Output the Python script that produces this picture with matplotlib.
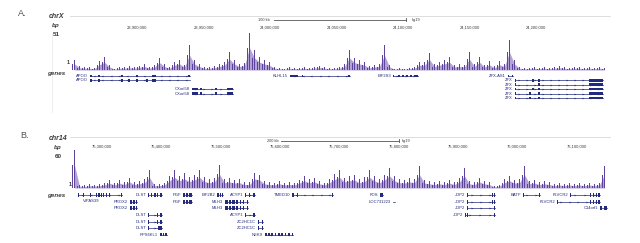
import matplotlib
matplotlib.use("Agg")
import matplotlib.pyplot as plt
from matplotlib.patches import Rectangle

plt.rcParams["font.family"] = ["Liberation Sans", "DejaVu Sans"]

# ---------------- panel A : chrX ----------------
a_chrom = "chrX"
a_view = (23849600, 24255680)
a_bin_start = 23851100
a_bin = 3760
a_max = 51
a_signal = [14, 5, 4, 4, 3, 12, 18, 7, 2, 4, 4, 5, 4, 6, 8, 4, 7, 17, 8, 4,
            11, 14, 7, 34, 14, 8, 4, 4, 5, 8, 11, 25, 14, 8, 10, 51, 28, 18, 14, 11,
            4, 3, 2, 4, 3, 3, 4, 3, 4, 6, 4, 3, 3, 4, 8, 28, 17, 14, 11, 5,
            7, 8, 34, 7, 2, 3, 2, 3, 4, 11, 11, 24, 8, 11, 14, 18, 7, 8, 7, 25,
            8, 18, 7, 12, 5, 12, 8, 41, 14, 4, 3, 3, 4, 3, 4, 3, 4, 5, 4, 3,
            4, 4, 3, 4, 3, 4, 3]
a_ticks = [23900000, 23950000, 24000000, 24050000, 24100000, 24150000, 24200000]
a_tick_labels = ["23,900,000", "23,950,000", "24,000,000", "24,050,000",
                 "24,100,000", "24,150,000", "24,200,000"]
a_scale_kb = 100
# name, row, start, end, strand, exons
a_genes = [
    ("APOO", 0, 23864600, 23939800, "-",
     [(23864600, 23866500), (23871000, 23872500), (23888000, 23889500),
      (23899500, 23901000), (23911000, 23914000), (23938500, 23939800)]),
    ("APOO", 1, 23864600, 23939800, "-",
     [(23864600, 23866500), (23871000, 23872500), (23888000, 23889500),
      (23893000, 23894500), (23899500, 23901000), (23907000, 23908500),
      (23911000, 23914000)]),
    ("CXorf58", 3, 23941300, 23972200, "+",
     [(23941300, 23945500), (23947000, 23949000), (23959000, 23960500),
      (23968000, 23972200)]),
    ("CXorf58", 4, 23941300, 23972200, "+",
     [(23941300, 23945500), (23947000, 23949000), (23959000, 23960500),
      (23968000, 23972200)]),
    ("KLHL15", 0, 24015000, 24060000, "-",
     [(24015000, 24021000), (24024000, 24025000), (24059000, 24060000)]),
    ("EIF2S3", 0, 24092500, 24111300, "+",
     [(24092500, 24093500), (24096000, 24097500), (24099500, 24101000),
      (24102500, 24104000), (24105500, 24107000), (24108500, 24111300)]),
    ("ZFX-AS1", 0, 24179000, 24183000, "-",
     [(24179000, 24180000), (24182000, 24183000)]),
    ("ZFX", 1, 24184200, 24250400, "+",
     [(24184200, 24185200), (24197000, 24198200), (24201500, 24203000), (24240000, 24250400)]),
    ("ZFX", 2, 24184200, 24250400, "+",
     [(24184200, 24185200), (24201500, 24203000), (24240000, 24250400)]),
    ("ZFX", 3, 24184200, 24250400, "+",
     [(24184200, 24185200), (24197000, 24198200), (24201500, 24203000), (24240000, 24250400)]),
    ("ZFX", 4, 24184200, 24250400, "+",
     [(24184200, 24185200), (24195000, 24196000), (24201500, 24203000), (24240000, 24250400)]),
    ("ZFX", 5, 24184200, 24250400, "+",
     [(24184200, 24185200), (24195000, 24196000), (24201500, 24203000), (24240000, 24250400)]),
]

# ---------------- panel B : chr14 ----------------
b_chrom = "chr14"
b_view = (75246050, 76156490)
b_bin_start = 75249420
b_bin = 8430
b_max = 60
b_signal = [60, 5, 4, 6, 5, 6, 8, 13, 8, 13, 9, 16, 9, 11, 14, 28, 6, 6, 8, 19,
            28, 19, 24, 17, 21, 28, 17, 14, 16, 36, 14, 16, 13, 14, 9, 9, 24, 21, 11, 9,
            8, 11, 8, 9, 8, 13, 19, 14, 16, 11, 8, 14, 22, 28, 16, 19, 21, 14, 17, 28,
            19, 14, 21, 32, 19, 14, 13, 16, 14, 35, 13, 11, 9, 11, 9, 13, 9, 16, 32, 11,
            9, 16, 11, 9, 3, 5, 14, 19, 13, 14, 35, 11, 13, 9, 11, 9, 6, 8, 6, 8,
            6, 8, 6, 8, 6, 8, 35]
b_ticks = [75300000, 75400000, 75500000, 75600000, 75700000, 75800000,
           75900000, 76000000, 76100000]
b_tick_labels = ["75,300,000", "75,400,000", "75,500,000", "75,600,000", "75,700,000",
                 "75,800,000", "75,900,000", "76,000,000", "76,100,000"]
b_scale_kb = 200
b_genes = [
    ("VIPAS39", 0, 75259540, 75333720, "-",
     [(75259540, 75261200), (75268000, 75269500), (75279500, 75281000), (75290000, 75292000),
      (75294000, 75296000), (75298000, 75300000), (75302000, 75304000), (75306000, 75308000),
      (75312000, 75314000), (75332000, 75333720)]),
    ("PROX2", 1, 75347200, 75359000, "-",
     [(75347200, 75350500), (75352500, 75355000), (75357500, 75359000)]),
    ("PROX2", 2, 75347200, 75359000, "-",
     [(75347200, 75350500), (75352500, 75355000), (75357500, 75359000)]),
    ("DLST", 0, 75377600, 75401200, "+",
     [(75377600, 75379000), (75383000, 75385000), (75388000, 75390500),
      (75392500, 75395000), (75397000, 75401200)]),
    ("DLST", 3, 75377600, 75401200, "+",
     [(75377600, 75379000), (75392500, 75395000), (75397000, 75401200)]),
    ("DLST", 4, 75377600, 75401200, "+",
     [(75377600, 75379000), (75392500, 75395000), (75397000, 75401200)]),
    ("DLST", 5, 75377600, 75401200, "+",
     [(75377600, 75380000), (75395000, 75401200)]),
    ("RPS6KL1", 6, 75397800, 75409600, "-",
     [(75397800, 75400500), (75402500, 75404500), (75406500, 75409600)]),
    ("PGF", 0, 75436600, 75451700, "-",
     [(75436600, 75439500), (75441500, 75444500), (75446500, 75451700)]),
    ("PGF", 1, 75436600, 75451700, "-",
     [(75436600, 75439500), (75441500, 75444500), (75446500, 75451700)]),
    ("EIF2B2", 0, 75493900, 75504000, "+",
     [(75493900, 75497000), (75498500, 75501000), (75502000, 75504000)]),
    ("MLH3", 1, 75507400, 75546200, "-",
     [(75507400, 75512000), (75514000, 75517500), (75520000, 75523500), (75526000, 75529500),
      (75532000, 75535000), (75537000, 75540000), (75544000, 75546200)]),
    ("MLH3", 2, 75507400, 75546200, "-",
     [(75507400, 75512000), (75514000, 75517500), (75520000, 75523500), (75526000, 75529500),
      (75532000, 75535000), (75537000, 75540000), (75544000, 75546200)]),
    ("ACYP1", 0, 75541100, 75558000, "+",
     [(75541100, 75542500), (75548000, 75549500), (75554500, 75558000)]),
    ("ACYP1", 3, 75541100, 75558000, "+",
     [(75541100, 75542500), (75554500, 75558000)]),
    ("ZC2HC1C", 4, 75563000, 75571500, "+",
     [(75563000, 75565000), (75569000, 75571500)]),
    ("ZC2HC1C", 5, 75563000, 75571500, "+",
     [(75563000, 75565000), (75569000, 75571500)]),
    ("NEK9", 6, 75574800, 75622000, "-",
     [(75574800, 75578000), (75580000, 75583000), (75585000, 75588000), (75591000, 75593000),
      (75596000, 75600000), (75602000, 75605000), (75608000, 75611000), (75614000, 75617000),
      (75620000, 75622000)]),
    ("TMED10", 0, 75620300, 75689500, "-",
     [(75620300, 75624000), (75628000, 75630000), (75650000, 75651500), (75688000, 75689500)]),
    ("FOS", 0, 75768700, 75773800, "+",
     [(75768700, 75769900), (75770800, 75771800), (75772800, 75773800)]),
    ("LOC731223", 1, 75790600, 75794000, "+", [(75790600, 75791200)]),
    ("JDP2", 0, 75915400, 75962600, "+",
     [(75915400, 75916400), (75925000, 75926000), (75958000, 75959500), (75961500, 75962600)]),
    ("JDP2", 1, 75915400, 75962600, "+",
     [(75915400, 75916400), (75958000, 75959500), (75961500, 75962600)]),
    ("JDP2", 2, 75915400, 75962600, "+",
     [(75915400, 75916400), (75925000, 75926000), (75961500, 75962600)]),
    ("JDP2", 3, 75912000, 75962600, "+",
     [(75912000, 75913500), (75916000, 75917000), (75961500, 75962600)]),
    ("BATF", 0, 76009800, 76038500, "+",
     [(76009800, 76011500), (76036000, 76038500)]),
    ("FLVCR2", 0, 76089000, 76139600, "+",
     [(76089000, 76090500), (76122000, 76124000), (76128000, 76130000),
      (76133000, 76135000), (76137000, 76139600)]),
    ("FLVCR2", 1, 76067000, 76139600, "+",
     [(76067000, 76068500), (76122000, 76124000), (76128000, 76130000),
      (76133000, 76135000), (76137000, 76139600)]),
    ("C14orf1", 2, 76139600, 76151400, "-",
     [(76139600, 76143500), (76146000, 76151400)]),
]

SIG = "#5e439c"
FILL = "#b2a3d4"
GENE = "#232a7d"
TXT = "#3a3a3a"

fig = plt.figure(figsize=(6.4, 2.43), dpi=100)


def box(x0, y0, x1, y1):
    return [x0 / 640, 1 - y1 / 243, (x1 - x0) / 640, (y1 - y0) / 243]


def ftext(x, y, s, **kw):
    kw.setdefault("color", TXT)
    kw.setdefault("va", "center")
    fig.text(x / 640, 1 - y / 243, s, **kw)


def header(top, bottom, view, ticks, labels, scale_kb, line_y, bar_y, lab_y):
    ax = fig.add_axes(box(70, top, 610, bottom))
    ax.set_xlim(view)
    ax.set_ylim(bottom, top)
    ax.axis("off")
    ax.plot(view, [line_y, line_y], color="#d8d8d8", lw=0.6, clip_on=False)
    mid = (view[0] + view[1]) / 2
    half = scale_kb * 1000 / 2
    ax.plot([mid - half, mid + half], [bar_y, bar_y], color="#555555", lw=0.6)
    ax.plot([mid + half, mid + half], [bar_y - 1.5, bar_y + 1.5], color="#555555", lw=0.6)
    ax.text(mid - half - 3000, bar_y, "%d kb" % scale_kb, fontsize=2.8, ha="right",
            va="center", color=TXT)
    ax.text(mid + half + 4000, bar_y, "hg19", fontsize=2.8, ha="left", va="center", color=TXT)
    for t, l in zip(ticks, labels):
        ax.text(t, lab_y, l, fontsize=3, ha="center", va="center", color=TXT)
    return ax


def signal(top, bottom, view, start, width, values, vmax):
    ax = fig.add_axes(box(70, top, 610, bottom))
    xs = [start + (i + 0.5) * width for i in range(len(values))]
    # soft envelope under the spikes
    ax.fill_between(xs, 0, [v * 0.6 for v in values], color=FILL, lw=0)
    # thin spikes, two per bin, to give the comb look of the browser track
    ax.bar(xs, values, width=width * 0.35, color=SIG, lw=0)
    ax.bar([x - width * 0.35 for x in xs], [v * 0.6 for v in values],
           width=width * 0.2, color=SIG, lw=0)
    ax.set_xlim(view)
    ax.set_ylim(0, vmax)
    ax.axis("off")
    return ax


def genes(top, bottom, view, glist, nrows, px_per_bp):
    ax = fig.add_axes(box(70, top, 610, bottom))
    ax.set_xlim(view)
    ax.set_ylim(nrows - 0.4, -0.5)
    ax.axis("off")
    step = 8 / px_per_bp
    for name, row, s, e, strand, exons in glist:
        ax.plot([s, e], [row, row], color=GENE, lw=0.5)
        for es, ee in exons:
            ax.add_patch(Rectangle((es, row - 0.3), ee - es, 0.6, color=GENE, lw=0))
        n = int((e - s) / step)
        if n > 0:
            xs = [s + (k + 0.5) * (e - s) / n for k in range(n)]
            ax.plot(xs, [row] * n, ls="none", marker=">" if strand == "+" else "<",
                    ms=1.3, mew=0, color=GENE)
        if (s - view[0]) * px_per_bp < 12:
            ax.text(s + 5 / px_per_bp, row + 0.9, name, fontsize=3, ha="left",
                    va="center", color=GENE)
        else:
            ax.text(s - 2 / px_per_bp, row, name, fontsize=3, ha="right",
                    va="center", color=GENE)
    return ax


# panel A
header(8, 33, a_view, a_ticks, a_tick_labels, a_scale_kb, 16, 20, 28)
signal(33, 70, a_view, a_bin_start, a_bin, a_signal, a_max)
a_ppb = 540 / (a_view[1] - a_view[0])
genes(73.8, 105, a_view, a_genes, 7.0, a_ppb)
fig.add_artist(plt.Line2D([52 / 640, 52 / 640], [1 - 33 / 243, 1 - 112 / 243],
                          color="#ececec", lw=0.6))
ftext(18, 14, "A.", fontsize=6.5, color="#555555")
ftext(64, 16, a_chrom, fontsize=5, ha="right", style="italic", weight="bold")
ftext(60, 25, "bp", fontsize=4.5, ha="right", style="italic", weight="bold")
ftext(60, 34, str(a_max), fontsize=4.5, ha="right", weight="bold")
ftext(68, 62, "1", fontsize=4, ha="center", weight="bold")
ftext(65, 74, "genes", fontsize=4.5, ha="right", style="italic", weight="bold")

# panel B
header(127, 151, b_view, b_ticks, b_tick_labels, b_scale_kb, 137, 141, 147)
signal(150, 188, b_view, b_bin_start, b_bin, b_signal, b_max)
b_ppb = 540 / (b_view[1] - b_view[0])
genes(192, 236, b_view, b_genes, 6.6, b_ppb)
ftext(20, 135, "B.", fontsize=6.5, color="#555555")
ftext(67, 138, b_chrom, fontsize=5, ha="right", style="italic", weight="bold")
ftext(62, 147, "bp", fontsize=4.5, ha="right", style="italic", weight="bold")
ftext(62, 156, str(b_max), fontsize=4.5, ha="right", weight="bold")
ftext(70, 185, "1", fontsize=4, ha="center", weight="bold")
ftext(65, 195, "genes", fontsize=4.5, ha="right", style="italic", weight="bold")

fig.savefig("out.png", dpi=100)
